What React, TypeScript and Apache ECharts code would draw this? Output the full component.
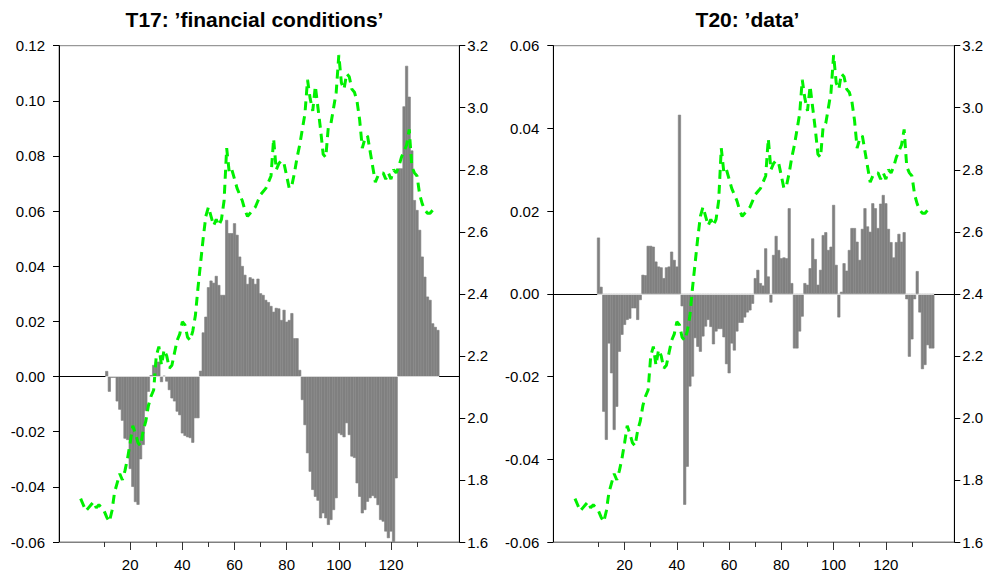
import React, { useEffect, useRef } from "react";
import * as echarts from "echarts";

// ---------------- data ----------------
const TITLES = ["T17: \u2019financial conditions\u2019", "T20: \u2019data\u2019"];

const X_MIN = -7.3;
const X_MAX = 146.2;
const X_MAJOR_TICKS = [20, 40, 60, 80, 100, 120];
const X_MINOR_TICKS = [10, 30, 50, 70, 90, 110, 130];

// observation number of the first value in each series
const T17_FIRST = 11;
const T17_VALUES = [
  0.002, -0.0055, -0.0004, -0.0004, -0.009, -0.012, -0.016, -0.0225, -0.023, -0.0335,
  -0.04, -0.0455, -0.0465, -0.03, -0.0248, -0.0125, -0.0055, 0.0005, 0.0042, 0.0054,
  0.0054, -0.002, 0.0003, -0.0018, -0.0049, -0.0079, -0.009, -0.0127, -0.014, -0.0206,
  -0.0215, -0.022, -0.0223, -0.024, -0.0151, -0.0151, 0.0021, 0.016, 0.0217, 0.0324,
  0.0348, 0.034, 0.0365, 0.0332, 0.0296, 0.0296, 0.0568, 0.052, 0.052, 0.0556,
  0.0514, 0.0435, 0.0401, 0.0369, 0.0336, 0.036, 0.0355, 0.0336, 0.0355, 0.0302,
  0.0296, 0.0278, 0.027, 0.0256, 0.0235, 0.0249, 0.0247, 0.0205, 0.0242, 0.0199,
  0.0205, 0.023, 0.0139, 0.0139, 0.0024, -0.0085, -0.0176, -0.0278, -0.0345, -0.0411,
  -0.0436, -0.045, -0.0514, -0.0496, -0.0514, -0.0538, -0.052, -0.0484, -0.0441, -0.0206,
  -0.0212, -0.022, -0.0169, -0.0212, -0.029, -0.0295, -0.0387, -0.0436, -0.0496, -0.0484,
  -0.0454, -0.0441, -0.0433, -0.0441, -0.0466, -0.052, -0.0526, -0.0562, -0.0586, -0.0562,
  -0.06, -0.0369, 0.0755, 0.0755, 0.098, 0.1127, 0.1015, 0.082, 0.064, 0.0604,
  0.0532, 0.0435, 0.0362, 0.029, 0.0278, 0.0193, 0.018, 0.0169,
];

const T20_FIRST = 10;
const T20_VALUES = [
  0.0136,
  0.0017, -0.0285, -0.0353, -0.012, -0.0192, -0.0329, -0.0273, -0.014, -0.0099, -0.0075,
  -0.0063, -0.006, -0.0035, -0.0035, -0.0063, -0.0015, 0.0046, 0.0045, 0.0116, 0.0116,
  0.0114, 0.0078, 0.0066, 0.0064, 0.0038, 0.0064, 0.0066, 0.0102, 0.0082, 0.0066,
  0.0433, -0.003, -0.051, -0.0418, -0.0224, -0.02, -0.0107, -0.0128, -0.014, -0.0103,
  -0.0079, -0.0063, -0.008, -0.0122, -0.0091, -0.0085, -0.0085, -0.0105, -0.017, -0.0192,
  -0.012, -0.0137, -0.0091, -0.007, -0.007, -0.0057, -0.0045, -0.004, -0.0024, 0.0038,
  0.0058, 0.0026, 0.002, 0.011, 0.0042, -0.0021, 0.0094, 0.014, 0.0106, 0.0086,
  0.0088, 0.0086, 0.0207, 0.0026, -0.0132, -0.0132, -0.0091, -0.0055, 0.0026, 0.0022,
  0.0062, 0.0134, 0.0084, 0.0022, 0.0058, 0.0142, 0.0149, 0.0106, 0.0114, 0.0215,
  0.007, -0.0057, 0.0005, 0.0074, 0.0056, 0.0106, 0.0159, 0.0159, 0.0126, 0.0082,
  0.0157, 0.0207, 0.0163, 0.015, 0.0219, 0.0207, 0.0159, 0.0218, 0.0239, 0.0219,
  0.0157, 0.0125, 0.0088, 0.0125, 0.0145, 0.0126, 0.0149, -0.0013, -0.0152, -0.011,
  -0.0013, 0.0055, -0.0045, -0.0182, -0.0172, -0.0124, -0.0132, -0.0132,
];

const LINE_FIRST = 1;
const LINE_VALUES = [
  1.74, 1.72, 1.7, 1.71, 1.72, 1.73, 1.71, 1.72, 1.71, 1.7,
  1.68, 1.665, 1.7, 1.76, 1.79, 1.82, 1.8, 1.83, 1.87, 1.92,
  1.975, 1.95, 1.92, 1.91, 1.96, 1.99, 2.04, 2.07, 2.09, 2.2,
  2.23, 2.17, 2.22, 2.2, 2.16, 2.17, 2.21, 2.25, 2.27, 2.31,
  2.3, 2.26, 2.25, 2.28, 2.33, 2.42, 2.5, 2.58, 2.65, 2.68,
  2.65, 2.62, 2.64, 2.62, 2.64, 2.7, 2.87, 2.79, 2.8, 2.77,
  2.74, 2.72, 2.7, 2.67, 2.65, 2.66, 2.67, 2.68, 2.7, 2.72,
  2.73, 2.74, 2.76, 2.78, 2.9, 2.8, 2.82, 2.83, 2.82, 2.78,
  2.74, 2.75, 2.79, 2.84, 2.88, 2.93, 2.98, 3.09, 3.03, 2.99,
  3.07, 3.0, 2.93, 2.85, 2.84, 2.94, 2.95, 3.0, 3.05, 3.17,
  3.08, 3.06, 3.11, 3.1, 3.06, 3.05, 3.02, 2.96, 2.87, 2.9,
  2.91, 2.86, 2.81, 2.76, 2.78, 2.79, 2.79, 2.77, 2.79, 2.77,
  2.8, 2.79, 2.81, 2.84, 2.86, 2.88, 2.93, 2.81, 2.79, 2.78,
  2.72, 2.69, 2.67, 2.66, 2.66, 2.67,
];

const LEFT_AXES = [
  { min: -0.06, max: 0.12, interval: 0.02 },
  { min: -0.06, max: 0.06, interval: 0.02 },
];
const RIGHT_AXIS = { min: 1.6, max: 3.2, interval: 0.2 };

// ---------------- chart ----------------
const FONT = "'Liberation Sans', Arial, Helvetica, sans-serif";
const BAR_COLOR = "#808080";
const LINE_COLOR = "#00f000";

const PANELS = [
  { first: T17_FIRST, values: T17_VALUES, left: 59, width: 400.3, titleX: 254.5 },
  { first: T20_FIRST, values: T20_VALUES, left: 553.3, width: 401, titleX: 747.5 },
];

function buildOption() {
  const grid: any[] = [];
  const xAxis: any[] = [];
  const yAxis: any[] = [];
  const series: any[] = [];
  const graphic: any[] = [];

  PANELS.forEach((p, k) => {
    grid.push({
      left: p.left,
      top: 45.7,
      width: p.width,
      height: 496.3,
      show: true,
      borderColor: "#808080",
      borderWidth: 1,
      backgroundColor: "transparent",
    });

    xAxis.push({
      type: "value",
      gridIndex: k,
      min: X_MIN,
      max: X_MAX,
      position: "bottom",
      axisLine: { show: true, onZero: false, lineStyle: { color: "#808080", width: 1 } },
      axisTick: { show: true, customValues: X_MAJOR_TICKS, length: 8, lineStyle: { color: "#333" } },
      axisLabel: {
        show: true,
        customValues: X_MAJOR_TICKS,
        margin: 15,
        fontSize: 15,
        color: "#000",
        fontFamily: FONT,
      },
      splitLine: { show: false },
    });
    xAxis.push({
      type: "value",
      gridIndex: k,
      min: X_MIN,
      max: X_MAX,
      position: "bottom",
      axisLine: { show: false, onZero: false },
      axisTick: { show: true, customValues: X_MINOR_TICKS, length: 5, lineStyle: { color: "#333" } },
      axisLabel: { show: false },
      splitLine: { show: false },
    });

    const la = LEFT_AXES[k];
    yAxis.push({
      type: "value",
      gridIndex: k,
      position: "left",
      min: la.min,
      max: la.max,
      interval: la.interval,
      axisLine: { show: true, onZero: false, lineStyle: { color: "#000" } },
      axisTick: { show: true, length: 6, lineStyle: { color: "#000" } },
      axisLabel: {
        margin: 14,
        fontSize: 15,
        color: "#000",
        fontFamily: FONT,
        formatter: (v: number) => v.toFixed(2),
      },
      splitLine: { show: false },
    });
    yAxis.push({
      type: "value",
      gridIndex: k,
      position: "right",
      min: RIGHT_AXIS.min,
      max: RIGHT_AXIS.max,
      interval: RIGHT_AXIS.interval,
      axisLine: { show: true, onZero: false, lineStyle: { color: "#000" } },
      axisTick: { show: true, length: 6, lineStyle: { color: "#000" } },
      axisLabel: {
        margin: 8,
        fontSize: 15,
        color: "#000",
        fontFamily: FONT,
        formatter: (v: number) => v.toFixed(1),
      },
      splitLine: { show: false },
    });

    const last = p.first + p.values.length - 1;
    series.push({
      type: "bar",
      xAxisIndex: 2 * k,
      yAxisIndex: 2 * k,
      data: p.values.map((v, j) => [p.first + j, v]),
      barWidth: 3.0,
      itemStyle: { color: BAR_COLOR, borderColor: BAR_COLOR, borderWidth: 0.6 },
      z: 2,
      markLine: {
        silent: true,
        symbol: ["none", "none"],
        label: { show: false },
        animation: false,
        data: [
          { yAxis: 0, lineStyle: { color: "#000", width: 1, type: "solid" } },
          [
            { coord: [p.first - 0.5, 0], lineStyle: { color: "#d8d8d8", width: 1, type: "solid" } },
            { coord: [last + 0.5, 0], lineStyle: { color: "#d8d8d8", width: 1, type: "solid" } },
          ],
        ],
      },
    });
    series.push({
      type: "line",
      xAxisIndex: 2 * k,
      yAxisIndex: 2 * k + 1,
      data: LINE_VALUES.map((v, j) => [LINE_FIRST + j, v]),
      showSymbol: false,
      symbol: "none",
      lineStyle: { color: LINE_COLOR, width: 3, type: [9, 6] },
      z: 3,
    });

    graphic.push({
      type: "text",
      x: p.titleX,
      y: 19.5,
      style: {
        text: TITLES[k],
        fill: "#000",
        font: `bold 21px ${FONT}`,
        align: "center",
        verticalAlign: "middle",
      },
    });
  });

  return {
    animation: false,
    backgroundColor: "#ffffff",
    textStyle: { fontFamily: FONT },
    grid,
    xAxis,
    yAxis,
    series,
    graphic,
  };
}

export default function App() {
  const ref = useRef<HTMLDivElement>(null);
  useEffect(() => {
    if (!ref.current) return;
    const chart = echarts.init(ref.current, undefined, { renderer: "svg" });
    chart.setOption(buildOption() as any);
    return () => chart.dispose();
  }, []);
  return (
    <div
      ref={ref}
      style={{ position: "fixed", left: 0, top: 0, width: 989, height: 578, background: "#fff" }}
    />
  );
}
